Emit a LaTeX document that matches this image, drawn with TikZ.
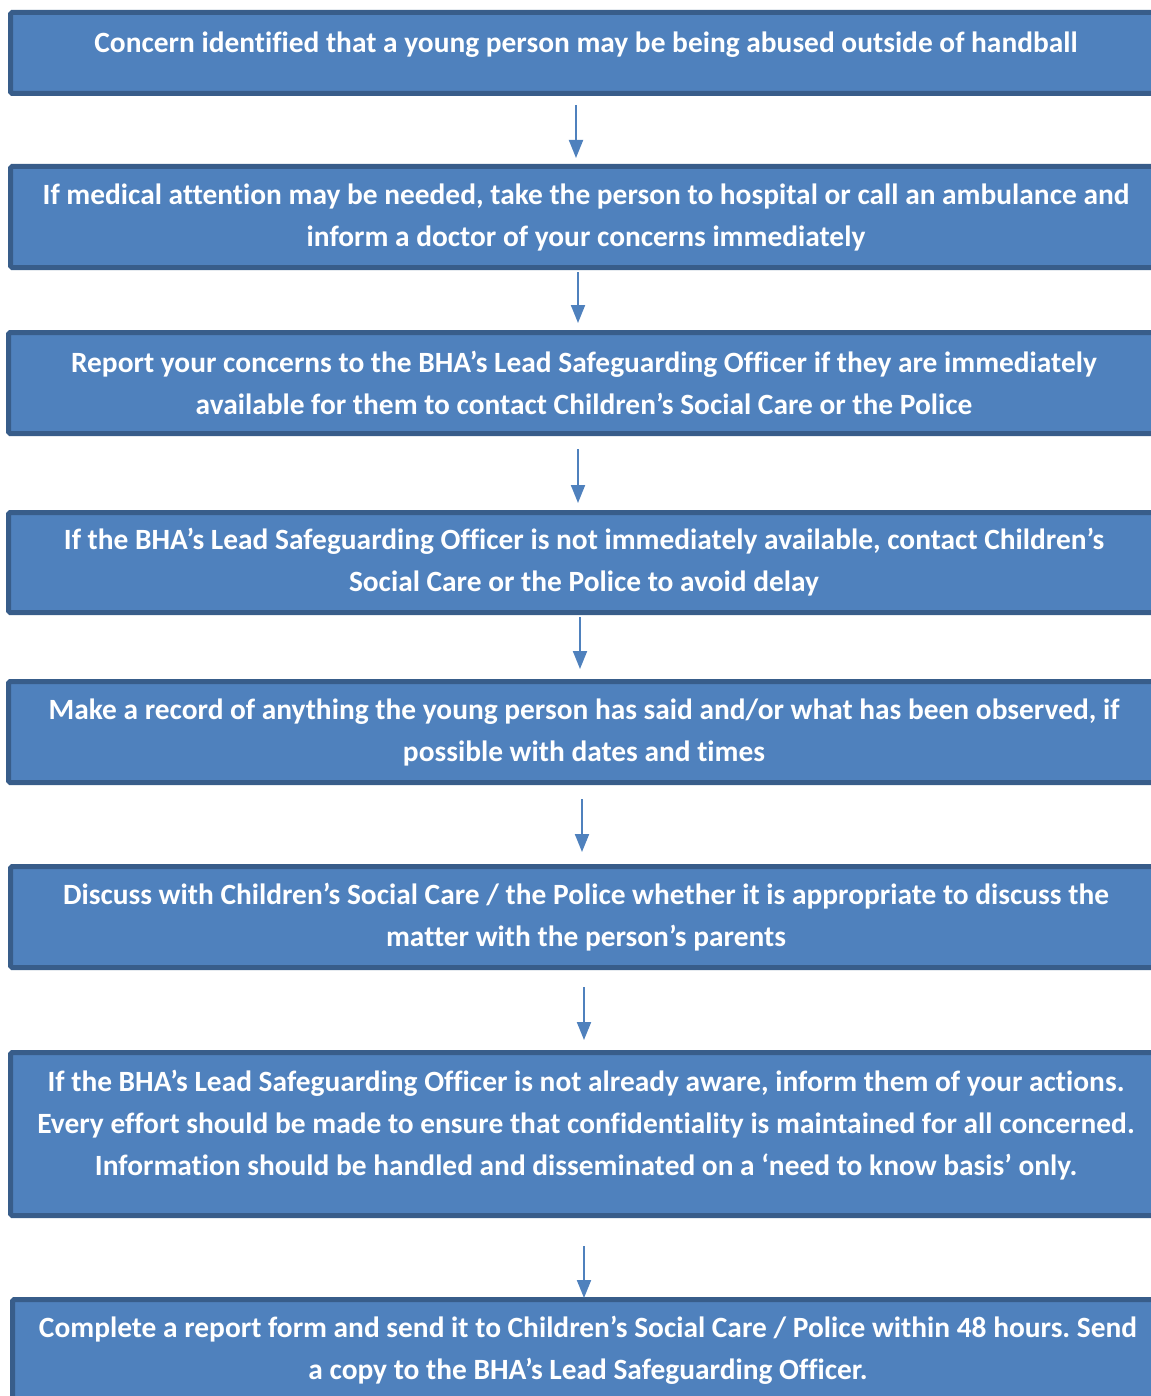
\documentclass[tikz,border=0pt]{standalone}
\usepackage{fontspec}
\setmainfont{Carlito}[Ligatures=NoCommon]
\frenchspacing
\usetikzlibrary{arrows.meta}
\definecolor{boxfill}{HTML}{4F81BD}
\definecolor{boxline}{HTML}{385D8A}

\begin{document}
\begin{tikzpicture}[x=0.5pt, y=-0.5pt,
	stepbox/.style={draw=boxline, fill=boxfill, line width=2.5pt, rounded corners=0.8pt,
		text=white, font=\fontsize{14.7}{21}\selectfont\bfseries, align=center,
		minimum width=575.5pt, inner sep=0pt},
	flow/.style={draw=boxfill, line width=1pt, -{Triangle[width=7pt,length=9pt]}}]
	\useasboundingbox (0,0) rectangle (1150,1396);
	% boxes
	\node[stepbox, minimum height=40.5pt, text depth=11pt] (concern) at (586,53)
		{Concern identified that a young person may be being abused outside of handball};
	\node[stepbox, minimum height=50.5pt] (medical) at (586,217)
		{If medical attention may be needed, take the person to hospital or call an ambulance and\\
		inform a doctor of your concerns immediately};
	\node[stepbox, minimum height=50.5pt] (report) at (584,383)
		{Report your concerns to the BHA’s Lead Safeguarding Officer if they are immediately\\
		available for them to contact Children’s Social Care or the Police};
	\node[stepbox, minimum height=50pt] (notavail) at (584,562.5)
		{If the BHA’s Lead Safeguarding Officer is not immediately available, contact Children’s\\
		Social Care or the Police to avoid delay};
	\node[stepbox, minimum height=50.5pt] (record) at (584,732)
		{Make a record of anything the young person has said and/or what has been observed, if\\
		possible with dates and times};
	\node[stepbox, minimum height=50.5pt] (discuss) at (586,917)
		{Discuss with Children’s Social Care / the Police whether it is appropriate to discuss the\\
		matter with the person’s parents};
	\node[stepbox, minimum height=81.5pt, text depth=11pt] (inform) at (586,1134)
		{If the BHA’s Lead Safeguarding Officer is not already aware, inform them of your actions.\\
		Every effort should be made to ensure that confidentiality is maintained for all concerned.\\
		Information should be handled and disseminated on a ‘need to know basis’ only.};
	\node[stepbox, minimum height=50.5pt] (complete) at (588,1350)
		{Complete a report form and send it to Children’s Social Care / Police within 48 hours. Send\\
		a copy to the BHA’s Lead Safeguarding Officer.};
	% arrows
	\draw[flow, shorten <=4.5pt, shorten >=3pt] ([xshift=-5pt]concern.south) -- ([xshift=-5pt]medical.north);
	\draw[flow, shorten <=1pt, shorten >=3.5pt] ([xshift=-4pt]medical.south) -- ([xshift=-4pt]medical.south |- report.north);
	\draw[flow, shorten <=6.5pt, shorten >=3.5pt] ([xshift=-3pt]report.south) -- ([xshift=-3pt]notavail.north);
	\draw[flow, shorten <=1pt, shorten >=5pt] ([xshift=-2pt]notavail.south) -- ([xshift=-2pt]record.north);
	\draw[flow, shorten <=7pt, shorten >=6pt] ([xshift=-1pt]record.south) -- ([xshift=-1pt]record.south |- discuss.north);
	\draw[flow, shorten <=8.5pt, shorten >=5pt] ([xshift=-1pt]discuss.south) -- ([xshift=-1pt]inform.north);
	\draw[flow, shorten <=14pt, shorten >=-0.5pt] ([xshift=-1pt]inform.south) -- ([xshift=-1pt]inform.south |- complete.north);
\end{tikzpicture}
\end{document}
